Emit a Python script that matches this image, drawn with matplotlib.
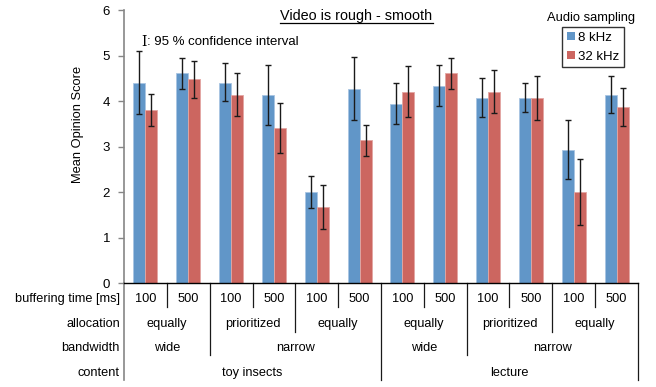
import matplotlib
matplotlib.use('Agg')
import matplotlib.pyplot as plt
import numpy as np
from matplotlib.patches import Patch
from matplotlib.lines import Line2D
import matplotlib.transforms as mtransforms

plt.rcParams['font.family'] = ['Liberation Sans', 'DejaVu Sans']

# ---- data ----
buffering = ['100', '500'] * 6
allocation = ['equally', 'prioritized', 'equally', 'equally', 'prioritized', 'equally']
bandwidth = ['wide', 'narrow', 'wide', 'narrow']
bandwidth_spans = [2, 4, 2, 4]
content = ['toy insects', 'lecture']
content_spans = [6, 6]
row_labels = ['buffering time [ms]', 'allocation', 'bandwidth', 'content']

mos_8k = [4.40, 4.61, 4.40, 4.13, 2.00, 4.27, 3.94, 4.34, 4.07, 4.07, 2.93, 4.13]
lo_8k = [3.71, 4.26, 4.00, 3.48, 1.66, 3.59, 3.50, 3.89, 3.64, 3.75, 2.30, 3.73]
hi_8k = [5.11, 4.95, 4.83, 4.80, 2.35, 4.96, 4.39, 4.79, 4.51, 4.40, 3.59, 4.55]
mos_32k = [3.80, 4.48, 4.13, 3.41, 1.67, 3.14, 4.21, 4.61, 4.21, 4.07, 2.00, 3.86]
lo_32k = [3.45, 4.06, 3.67, 2.85, 1.19, 2.80, 3.64, 4.26, 3.73, 3.59, 1.28, 3.46]
hi_32k = [4.15, 4.88, 4.61, 3.96, 2.16, 3.48, 4.77, 4.95, 4.68, 4.56, 2.73, 4.29]

series_labels = ['8 kHz', '32 kHz']
colors = ['#6196C8', '#CC6660']

W, H = 656, 387
fig = plt.figure(figsize=(W / 100, H / 100), dpi=100)
ax = fig.add_axes([124 / W, 1 - 283.3 / H, (638 - 124) / W, (283.3 - 10) / H])

n = len(mos_8k)
x = np.arange(n) + 0.5
bw = 0.28
err_8k = [np.array(mos_8k) - np.array(lo_8k), np.array(hi_8k) - np.array(mos_8k)]
err_32k = [np.array(mos_32k) - np.array(lo_32k), np.array(hi_32k) - np.array(mos_32k)]

ax.bar(x - bw / 2, mos_8k, bw, color=colors[0], edgecolor='#A9C5E2', linewidth=0.6, zorder=2)
ax.bar(x + bw / 2, mos_32k, bw, color=colors[1], edgecolor='#E3A6A2', linewidth=0.6, zorder=2)
ax.errorbar(x - bw / 2, mos_8k, yerr=err_8k, fmt='none', ecolor='#1a1a1a', elinewidth=1.0,
            capsize=1.9, capthick=1.0, zorder=3)
ax.errorbar(x + bw / 2, mos_32k, yerr=err_32k, fmt='none', ecolor='#1a1a1a', elinewidth=1.0,
            capsize=1.9, capthick=1.0, zorder=3)

ax.set_xlim(0, n)
ax.set_ylim(0, 6)
ax.set_yticks(range(0, 7))
ax.set_xticks([])
ax.tick_params(axis='y', length=4, width=1, color='#868686', labelsize=9.5, pad=6)
for s in ['top', 'right']:
    ax.spines[s].set_visible(False)
ax.spines['left'].set_color('#868686')
ax.spines['left'].set_linewidth(1.2)
ax.spines['bottom'].set_color('black')
ax.spines['bottom'].set_linewidth(1.0)

fig.text(77.5 / W, 1 - 124 / H, 'Mean Opinion Score', fontsize=9.3, rotation=90,
         ha='center', va='center')

# ---- category table below the axis ----
trans = mtransforms.blended_transform_factory(ax.transData, ax.transAxes)
row_y = [-0.0585, -0.149, -0.238, -0.327]
row_bottom = [-0.0867, -0.178, -0.262, -0.354]
fs = 9.2

for i, lab in enumerate(buffering):
    ax.text(x[i], row_y[0], lab, transform=trans, ha='center', va='center', fontsize=fs)
for i, lab in enumerate(allocation):
    ax.text(2 * i + 1, row_y[1], lab, transform=trans, ha='center', va='center', fontsize=fs)
pos = 0
bw_bounds = [0]
for lab, sp in zip(bandwidth, bandwidth_spans):
    ax.text(pos + sp / 2, row_y[2], lab, transform=trans, ha='center', va='center', fontsize=fs)
    pos += sp
    bw_bounds.append(pos)
pos = 0
ct_bounds = [0]
for lab, sp in zip(content, content_spans):
    ax.text(pos + sp / 2, row_y[3], lab, transform=trans, ha='center', va='center', fontsize=fs)
    pos += sp
    ct_bounds.append(pos)

for j, lab in enumerate(row_labels):
    ax.text(-0.008, row_y[j], lab, transform=ax.transAxes, ha='right', va='center', fontsize=fs)

for b in range(n + 1):
    if b in ct_bounds:
        level = 3
    elif b in bw_bounds:
        level = 2
    elif b % 2 == 0:
        level = 1
    else:
        level = 0
    col = '#868686' if b == 0 else '#1a1a1a'
    lw = 1.2 if b == 0 else 0.9
    ax.add_line(Line2D([b, b], [0, row_bottom[level]], transform=trans, color=col,
                       linewidth=lw, clip_on=False))

# ---- annotations ----
fig.text(141.5 / W, 1 - 42 / H, 'I', family='DejaVu Serif', fontsize=10, ha='left', va='center')
fig.text(147 / W, 1 - 42 / H, ': 95 % confidence interval', fontsize=9.5, ha='left', va='center')

t = fig.text(356.5 / W, 1 - 16 / H, 'Video is rough - smooth', fontsize=10.4, ha='center', va='center')
fig.canvas.draw()
bb = t.get_window_extent().transformed(fig.transFigure.inverted())
fig.add_artist(Line2D([bb.x0, bb.x1], [1 - 23 / H, 1 - 23 / H], transform=fig.transFigure,
                      color='black', linewidth=0.9))

fig.text(591 / W, 1 - 18 / H, 'Audio sampling', fontsize=9.3, ha='center', va='center')
handles = [Patch(facecolor=c, edgecolor='none') for c in colors]
leg = fig.legend(handles, series_labels, loc='upper left', bbox_to_anchor=(562 / W, 1 - 27 / H),
                 bbox_transform=fig.transFigure, borderaxespad=0, fontsize=9.5,
                 handlelength=0.6, handleheight=0.6, handletextpad=0.25, fancybox=False,
                 frameon=True, borderpad=0.35, labelspacing=0.55)
leg.get_frame().set_edgecolor('black')
leg.get_frame().set_linewidth(1.0)

fig.savefig('out.png', dpi=100)
